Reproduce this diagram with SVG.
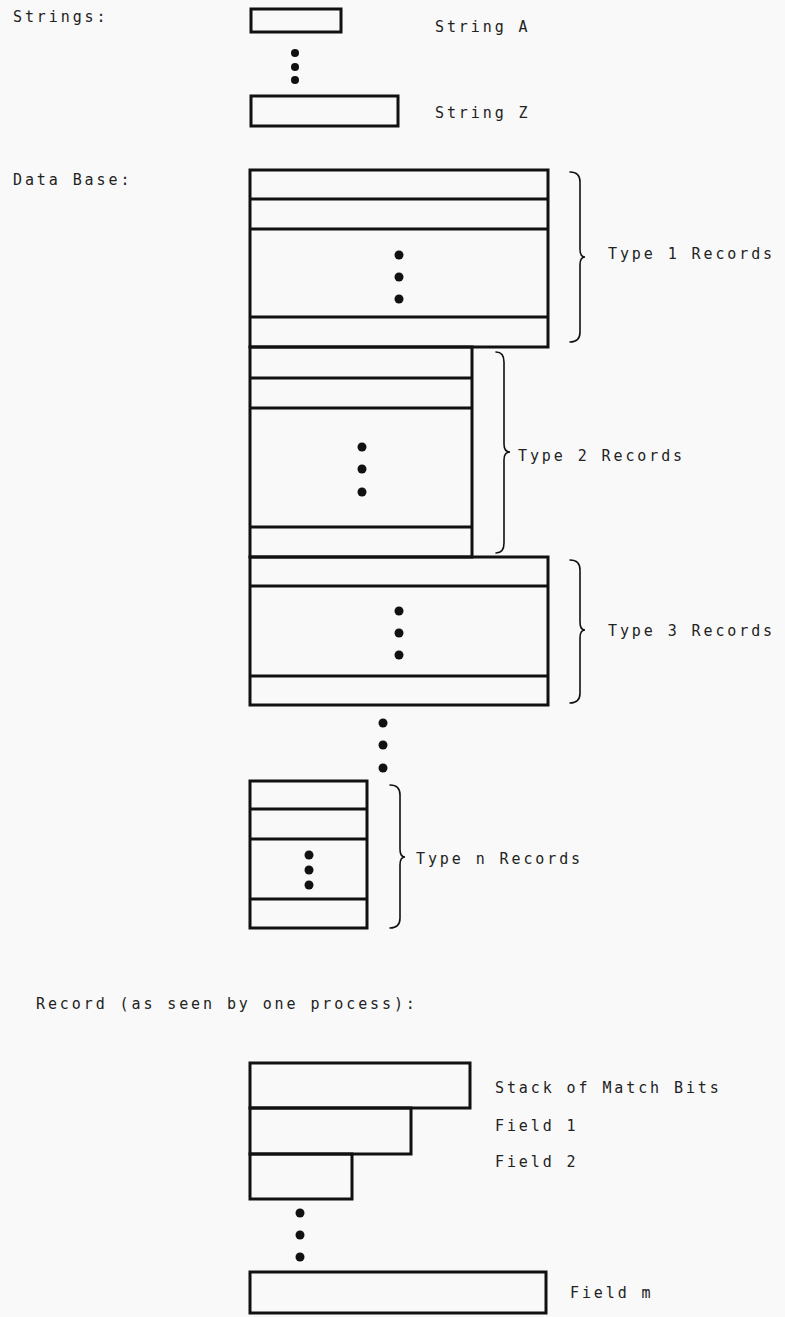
<svg xmlns="http://www.w3.org/2000/svg" width="785" height="1317" viewBox="0 0 785 1317">
<style>
.box{fill:none;stroke:#111;stroke-width:3;stroke-linejoin:miter}
.ln{stroke:#111;stroke-width:3}
.dot{fill:#111}
.br{fill:none;stroke:#111;stroke-width:1.6;stroke-linecap:round}
.t{font-family:"DejaVu Sans Mono","Liberation Mono",monospace;font-size:15px;letter-spacing:2.9px;fill:#222}
</style>
<rect width="785" height="1317" fill="#f9f9f9"/>
<g id="strings">
<text class="t" x="13" y="22">Strings:</text>
<g id="stringA"><rect class="box" x="251" y="9" width="90" height="23"/><text class="t" x="435" y="32">String A</text></g>
<circle class="dot" cx="295" cy="53" r="4"/><circle class="dot" cx="295" cy="67" r="4"/><circle class="dot" cx="295" cy="80" r="4"/>
<g id="stringZ"><rect class="box" x="251" y="96" width="147" height="30"/><text class="t" x="435" y="118">String Z</text></g>
</g>
<g id="database">
<text class="t" x="13" y="185">Data Base:</text>
<g id="type1">
<rect class="box" x="250" y="170" width="298" height="177"/>
<line class="ln" x1="250" y1="199" x2="548" y2="199"/>
<line class="ln" x1="250" y1="229" x2="548" y2="229"/>
<line class="ln" x1="250" y1="317" x2="548" y2="317"/>
<circle class="dot" cx="399" cy="255" r="4.5"/><circle class="dot" cx="399" cy="277" r="4.5"/><circle class="dot" cx="399" cy="299" r="4.5"/>
<path class="br" d="M570 172 Q580 172 580 182 L580 249 Q580 257 585 257 Q580 257 580 265 L580 332 Q580 342 570 342"/>
<text class="t" x="608" y="259">Type 1 Records</text>
</g>
<g id="type2">
<rect class="box" x="250" y="347" width="222" height="210"/>
<line class="ln" x1="250" y1="378" x2="472" y2="378"/>
<line class="ln" x1="250" y1="408" x2="472" y2="408"/>
<line class="ln" x1="250" y1="527" x2="472" y2="527"/>
<circle class="dot" cx="362" cy="447" r="4.5"/><circle class="dot" cx="362" cy="469" r="4.5"/><circle class="dot" cx="362" cy="492" r="4.5"/>
<path class="br" d="M496 352 Q504 352 504 362 L504 444 Q504 452 510 452 Q504 452 504 460 L504 543 Q504 553 496 553"/>
<text class="t" x="518" y="461">Type 2 Records</text>
</g>
<g id="type3">
<rect class="box" x="250" y="557" width="298" height="148"/>
<line class="ln" x1="250" y1="586" x2="548" y2="586"/>
<line class="ln" x1="250" y1="676" x2="548" y2="676"/>
<circle class="dot" cx="399" cy="611" r="4.5"/><circle class="dot" cx="399" cy="633" r="4.5"/><circle class="dot" cx="399" cy="655" r="4.5"/>
<path class="br" d="M570 560 Q580 560 580 570 L580 622 Q580 630 585 630 Q580 630 580 638 L580 693 Q580 703 570 703"/>
<text class="t" x="608" y="636">Type 3 Records</text>
</g>
<circle class="dot" cx="383" cy="723" r="4.5"/><circle class="dot" cx="383" cy="745" r="4.5"/><circle class="dot" cx="383" cy="768" r="4.5"/>
<g id="typen">
<rect class="box" x="250" y="781" width="117" height="147"/>
<line class="ln" x1="250" y1="809" x2="367" y2="809"/>
<line class="ln" x1="250" y1="839" x2="367" y2="839"/>
<line class="ln" x1="250" y1="899" x2="367" y2="899"/>
<circle class="dot" cx="309" cy="855" r="4.5"/><circle class="dot" cx="309" cy="870" r="4.5"/><circle class="dot" cx="309" cy="885" r="4.5"/>
<path class="br" d="M390 785 Q400 785 400 795 L400 849 Q400 857 405 857 Q400 857 400 865 L400 918 Q400 928 390 928"/>
<text class="t" x="416" y="864">Type n Records</text>
</g>
</g>
<g id="record">
<text class="t" x="36" y="1009">Record (as seen by one process):</text>
<g id="stack"><rect class="box" x="250" y="1063" width="220" height="45"/><text class="t" x="495" y="1093">Stack of Match Bits</text></g>
<g id="field1"><rect class="box" x="250" y="1108" width="161" height="46"/><text class="t" x="495" y="1131">Field 1</text></g>
<g id="field2"><rect class="box" x="250" y="1154" width="102" height="45"/><text class="t" x="495" y="1167">Field 2</text></g>
<circle class="dot" cx="300" cy="1213" r="4.5"/><circle class="dot" cx="300" cy="1235" r="4.5"/><circle class="dot" cx="300" cy="1257" r="4.5"/>
<g id="fieldm"><rect class="box" x="250" y="1272" width="296" height="41"/><text class="t" x="570" y="1298">Field m</text></g>
</g>
</svg>
